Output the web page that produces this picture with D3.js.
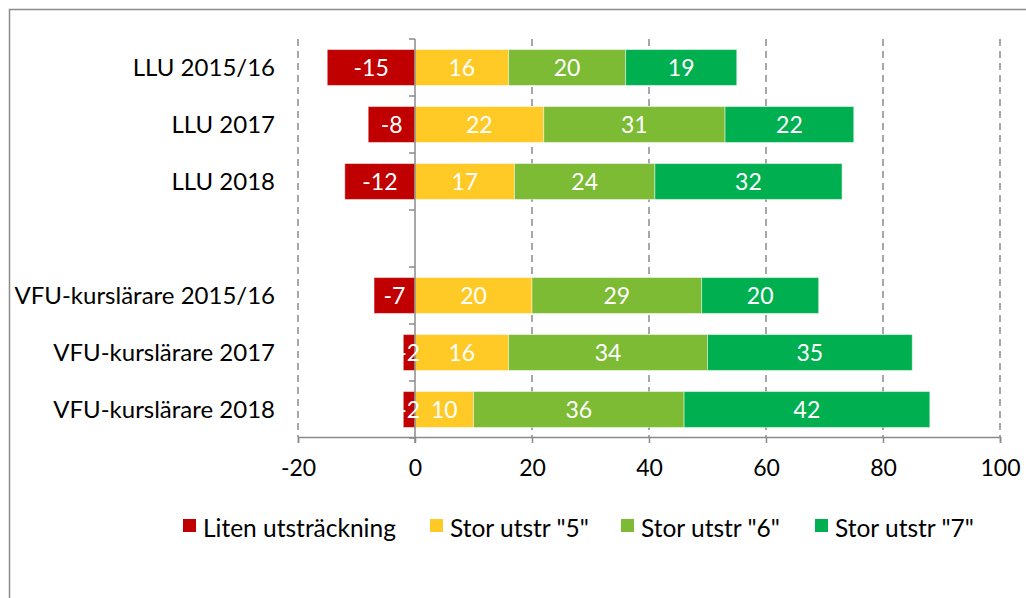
<!DOCTYPE html>
<html>
<head>
<meta charset="utf-8">
<script src="https://cdn.jsdelivr.net/npm/d3@7/dist/d3.min.js"></script>
<style>
  body { margin: 0; background: #fff; }
  svg text { font-family: Lato, "Open Sans", sans-serif; }
</style>
</head>
<body>
<svg id="chart" width="1026" height="598"></svg>
<script>
"use strict";

// categories (blank row separates the two groups)
var categories = ["LLU 2015/16", "LLU 2017", "LLU 2018", "", "VFU-kurslärare 2015/16", "VFU-kurslärare 2017", "VFU-kurslärare 2018"];
var liten = [-15, -8, -12, null, -7, -2, -2];
var stor5 = [16, 22, 17, null, 20, 16, 10];
var stor6 = [20, 31, 24, null, 29, 34, 36];
var stor7 = [19, 22, 32, null, 20, 35, 42];
var seriesNames = ["Liten utsträckning", "Stor utstr \"5\"", "Stor utstr \"6\"", "Stor utstr \"7\""];
var colors = ["#C00000", "#FFC926", "#7CBB33", "#00B050"];
var xTicks = [-20, 0, 20, 40, 60, 80, 100];

var svg = d3.select("#chart");

// outer frame (right/bottom run off the picture)
svg.append("rect")
  .attr("x", 9.5).attr("y", 9.5)
  .attr("width", 1100).attr("height", 700)
  .attr("fill", "none").attr("stroke", "#8c8c8c").attr("stroke-width", 1.5);

var x = d3.scaleLinear().domain([-20, 100]).range([298, 1000]);
var y = d3.scaleBand().domain(categories).range([39, 438]).paddingInner(0.37).paddingOuter(0.185);

var grey = "#8a8a8a";

// dashed gridlines
svg.append("g").selectAll("line")
  .data(xTicks.filter(function(d){ return d !== 0; }))
  .enter().append("line")
    .attr("x1", function(d){ return x(d); })
    .attr("x2", function(d){ return x(d); })
    .attr("y1", 39).attr("y2", 437)
    .attr("stroke", grey).attr("stroke-width", 1.5)
    .attr("stroke-dasharray", "7,5");

// x axis
var xAxis = svg.append("g")
  .attr("transform", "translate(0,437)")
  .call(d3.axisBottom(x).tickValues(xTicks).tickSize(6).tickPadding(17)
    .tickFormat(function(d){ return String(d); }));
xAxis.select(".domain").attr("stroke", grey).attr("stroke-width", 1.5);
xAxis.selectAll(".tick line").attr("stroke", grey).attr("stroke-width", 1.5);
xAxis.selectAll(".tick text").attr("font-size", 23).attr("fill", "#000");

// stacked rows
var rows = categories.map(function(c, i) {
  return { cat: c, vals: [liten[i], stor5[i], stor6[i], stor7[i]] };
}).filter(function(r){ return r.vals[0] !== null; });

var segs = [];
rows.forEach(function(r) {
  var pos = 0;
  r.vals.forEach(function(v, k) {
    if (v < 0) segs.push({ cat: r.cat, k: k, v: v, x0: v, x1: 0 });
    else { segs.push({ cat: r.cat, k: k, v: v, x0: pos, x1: pos + v }); pos += v; }
  });
});

svg.append("g").selectAll("rect")
  .data(segs).enter().append("rect")
    .attr("x", function(d){ return x(d.x0); })
    .attr("width", function(d){ return x(d.x1) - x(d.x0); })
    .attr("y", function(d){ return y(d.cat); })
    .attr("height", y.bandwidth())
    .attr("fill", function(d){ return colors[d.k]; })
    .attr("stroke", "#fff").attr("stroke-opacity", 0.45).attr("stroke-width", 1);

// zero line with category ticks
svg.append("line")
  .attr("x1", x(0)).attr("x2", x(0)).attr("y1", 39).attr("y2", 443)
  .attr("stroke", grey).attr("stroke-width", 1.5);
svg.append("g").selectAll("line")
  .data(d3.range(categories.length + 1)).enter().append("line")
    .attr("x1", x(0) - 6).attr("x2", x(0))
    .attr("y1", function(i){ return 39 + i * y.step(); })
    .attr("y2", function(i){ return 39 + i * y.step(); })
    .attr("stroke", grey).attr("stroke-width", 1.5);

// data labels
svg.append("g").selectAll("text")
  .data(segs).enter().append("text")
    .attr("x", function(d){ return (x(d.x0) + x(d.x1)) / 2; })
    .attr("y", function(d){ return y(d.cat) + y.bandwidth() / 2; })
    .attr("dy", "0.35em")
    .attr("text-anchor", "middle")
    .attr("font-size", 23)
    .attr("fill", "#fff")
    .text(function(d){ return d.v; });

// category labels
svg.append("g").selectAll("text")
  .data(categories).enter().append("text")
    .attr("x", 275)
    .attr("y", function(d){ return y(d) + y.bandwidth() / 2; })
    .attr("dy", "0.35em")
    .attr("text-anchor", "end")
    .attr("font-size", 24)
    .attr("fill", "#000")
    .text(function(d){ return d; });

// legend
var legendX = [183, 430, 621, 815];
var legend = svg.append("g").selectAll("g")
  .data(seriesNames).enter().append("g")
    .attr("transform", function(d, i){ return "translate(" + legendX[i] + ",526)"; });
legend.append("rect")
  .attr("x", 0).attr("y", -7).attr("width", 13).attr("height", 13)
  .attr("fill", function(d, i){ return colors[i]; });
legend.append("text")
  .attr("x", 20).attr("y", 11)
  .attr("font-size", 24.5).attr("fill", "#000")
  .text(function(d){ return d; });
</script>
</body>
</html>
